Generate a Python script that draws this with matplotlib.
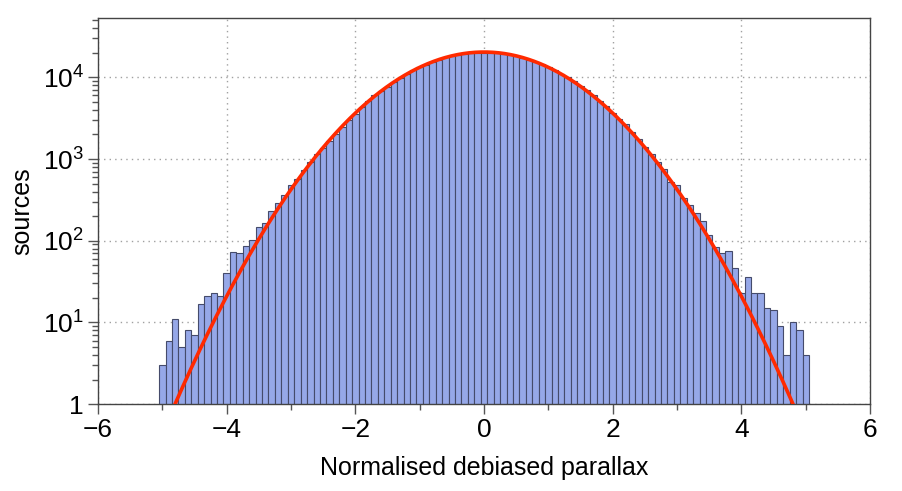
import matplotlib as mpl
import matplotlib.pyplot as plt
import numpy as np
from matplotlib.ticker import FixedLocator, FuncFormatter, LogLocator, NullFormatter

mpl.rcParams.update({
    "font.family": "sans-serif",
    "font.sans-serif": ["Liberation Sans", "DejaVu Sans"],
    "mathtext.fontset": "custom",
    "mathtext.rm": "Liberation Sans",
    "mathtext.it": "Liberation Sans:italic",
})

# ── data ─────────────────────────────────────────────────────────────────────
# histogram bins of width 0.1, centred on -5.0 ... 5.0
bin_centres = np.round(np.arange(-50, 51) * 0.1, 1)
bin_width = 0.1

counts_neg = [
    3, 6, 11, 5, 8, 7, 17, 21, 23, 21,                              # -5.0 .. -4.1
    40, 72, 70, 85, 101, 146, 167, 230, 288, 361,                   # -4.0 .. -3.1
    486, 566, 730, 920, 1150, 1370, 1650, 2000, 2480, 3000,         # -3.0 .. -2.1
    3560, 4350, 5150, 6050, 6880, 7700, 8850, 9850, 11000, 12200,   # -2.0 .. -1.1
    13300, 14300, 15400, 16450, 17500, 18300, 19000, 19500, 19850, 20050,  # -1.0 .. -0.1
]
count_zero = [20100]
counts_pos = [
    20050, 19800, 19400, 18800, 18100, 17300, 16400, 15400, 14400, 13300,  # 0.1 .. 1.0
    12200, 11100, 10000, 8900, 7850, 6900, 6000, 5150, 4400, 3700,  # 1.1 .. 2.0
    3100, 2650, 2150, 1750, 1420, 1150, 910, 750, 525, 480,         # 2.1 .. 3.0
    337, 272, 221, 174, 116, 84, 70, 74, 46, 23,                    # 3.1 .. 4.0
    36, 23, 23, 15, 14, 9, 4, 10, 8, 4,                             # 4.1 .. 5.0
]
counts = counts_neg + count_zero + counts_pos

# Gaussian fit drawn in red (peak height, width)
fit_peak = 20400
fit_sigma = 1.078

x_ticks = [-6, -4, -2, 0, 2, 4, 6]
y_ticks = [1, 10, 100, 1000, 10000]

BAR_FILL = "#96a8e8"
BAR_EDGE = "#454b6b"
FIT_RED = "#ff2a00"


def y_label_fmt(v, _pos):
    if v == 1:
        return "1"
    return r"$\mathdefault{10^{%d}}$" % int(round(np.log10(v)))


fig = plt.figure(figsize=(9.02, 4.91), dpi=100)
ax = fig.add_axes([0.1086, 0.177, 0.856, 0.786])

ax.bar(bin_centres, counts, width=bin_width, color=BAR_FILL, edgecolor=BAR_EDGE,
       linewidth=0.8, zorder=2)

xs = np.linspace(-5.5, 5.5, 600)
ax.plot(xs, fit_peak * np.exp(-0.5 * (xs / fit_sigma) ** 2), color=FIT_RED,
        linewidth=2.6, zorder=3)

ax.set_yscale("log")
ax.set_xlim(-6, 6)
ax.set_ylim(1, 5.3e4)

ax.xaxis.set_major_locator(FixedLocator(x_ticks))
ax.xaxis.set_minor_locator(FixedLocator([-5, -3, -1, 1, 3, 5]))
ax.yaxis.set_major_locator(FixedLocator(y_ticks))
ax.yaxis.set_major_formatter(FuncFormatter(y_label_fmt))
ax.yaxis.set_minor_locator(LogLocator(base=10, subs=np.arange(2, 10), numticks=20))
ax.yaxis.set_minor_formatter(NullFormatter())

ax.tick_params(which="major", direction="out", length=7, width=1, color="#555555",
               labelsize=19, pad=3)
ax.tick_params(which="minor", direction="out", length=4, width=1, color="#555555")

ax.set_axisbelow(True)
ax.grid(True, which="major", linestyle=(0, (1, 3)), color="#a0a0a0", linewidth=1)

for spine in ax.spines.values():
    spine.set_color("#444444")
    spine.set_linewidth(1)

ax.set_xlabel("Normalised debiased parallax", fontsize=18, labelpad=10)
ax.set_ylabel("sources", fontsize=18, labelpad=6)

fig.savefig("out.png", dpi=100)
